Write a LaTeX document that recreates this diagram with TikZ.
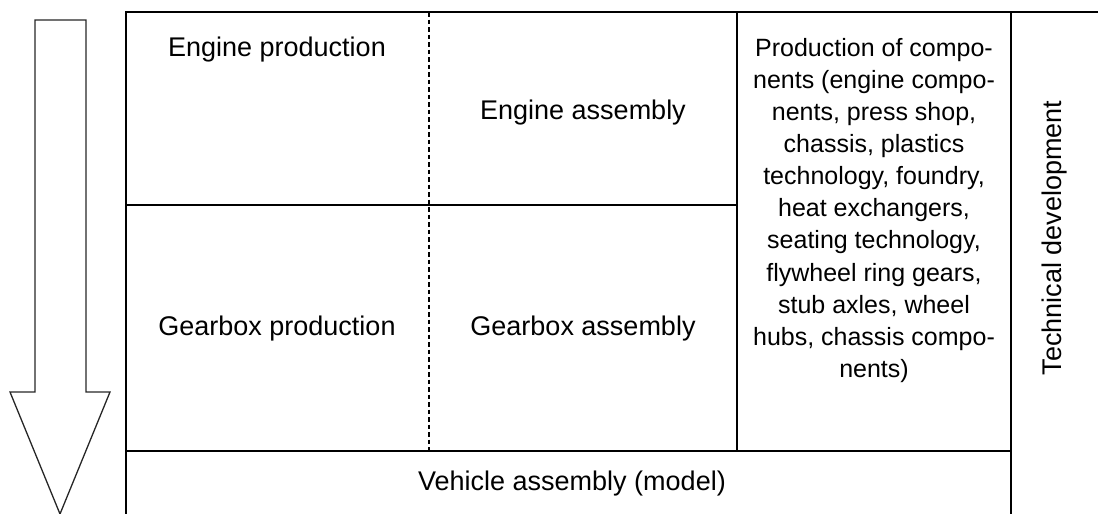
\documentclass[tikz,border=0pt]{standalone}
\usepackage{fontspec}
\setmainfont{Liberation Sans}
\begin{document}
\begin{tikzpicture}[x=1pt,y=-1pt,
  grid/.style={line width=1.5pt,black},
  divider/.style={line width=1.4pt,black,dash pattern=on 4.5pt off 3pt},
  flow/.style={line width=1.3pt,black!85,line join=miter},
  cell/.style={font=\fontsize{27}{32.1}\selectfont,align=center,inner sep=0pt},
  listcell/.style={font=\fontsize{25}{32.1}\selectfont,align=center,inner sep=0pt}]
\useasboundingbox (0,0) rectangle (1098,514);

% table frame and rules
\coordinate (tl) at (126,12);
\coordinate (tr) at (1098,12);
\coordinate (bl) at (126,514);
\draw[grid] (bl) -- (tl) -- (tr);
\draw[grid] (1011,12) -- (1011,514);
\draw[grid] (737,12) -- (737,451);
\draw[grid] (126,451) -- (1011,451);
\draw[grid] (126,205) -- (737,205);
\draw[divider] (429,12) -- (429,451);

% cell texts
\node[cell] (engprod) at (277,50) {Engine production};
\node[cell] (engasm) at (583,113) {Engine assembly};
\node[cell] (gbprod) at (277,329) {Gearbox production};
\node[cell] (gbasm) at (583,329) {Gearbox assembly};
\node[cell] (vehasm) at (572,484) {Vehicle assembly (model)};
\node[listcell,anchor=north] (comp) at (874,38) {Production of compo-\\nents (engine compo-\\nents, press shop,\\chassis, plastics\\technology, foundry,\\heat exchangers,\\seating technology,\\flywheel ring gears,\\stub axles, wheel\\hubs, chassis compo-\\nents)};
\node[cell,rotate=90] (techdev) at (1055,238) {Technical development};

% downward arrow
\draw[flow] (35,20) -- (86,20) -- (86,392) -- (110,392) -- (60,514)
  -- (10,392) -- (35,392) -- cycle;
\end{tikzpicture}
\end{document}
